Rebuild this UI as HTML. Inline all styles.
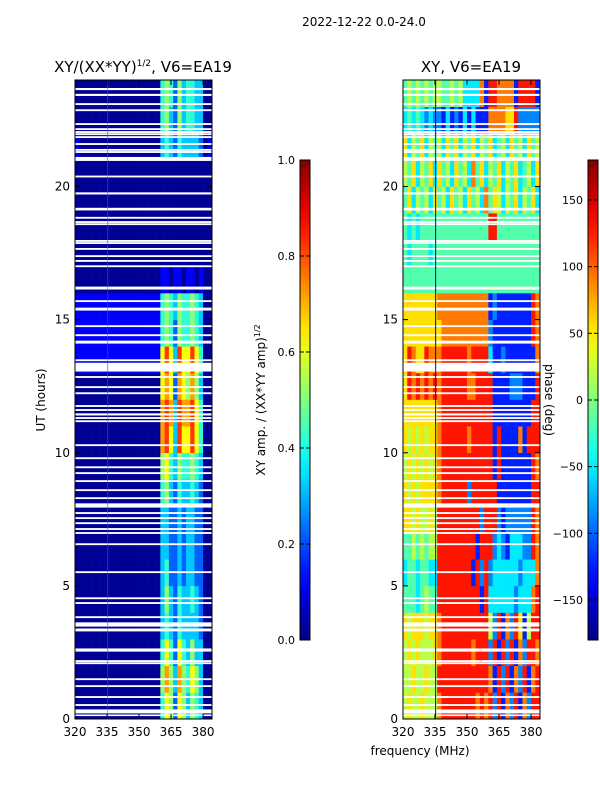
<!DOCTYPE html>
<html><head><meta charset="utf-8">
<style>
body{margin:0;background:#fff;}
svg{display:block;font-family:"DejaVu Sans","Liberation Sans",sans-serif;}
</style></head>
<body>
<svg id="fig" width="600" height="800" viewBox="0 0 600 800">
<rect width="600" height="800" fill="#fff"/>
<text x="364" y="26" font-size="12" text-anchor="middle">2022-12-22 0.0-24.0</text>
<text x="143" y="72" font-size="15" text-anchor="middle">XY/(XX*YY)<tspan font-size="9" dy="-6">1/2</tspan><tspan dy="6">, V6=EA19</tspan></text>
<text x="471" y="72" font-size="15" text-anchor="middle">XY, V6=EA19</text>
<g id="left"></g>
<g id="right"></g>
<g id="axes"></g>
<text transform="translate(45,400) rotate(-90)" font-size="12" text-anchor="middle">UT (hours)</text>
<text x="420" y="755" font-size="12" text-anchor="middle">frequency (MHz)</text>
<text transform="translate(265,400) rotate(-90)" font-size="12" text-anchor="middle">XY amp. / (XX*YY amp)<tspan font-size="8" dy="-5">1/2</tspan></text>
<text transform="translate(545,400) rotate(90)" font-size="12" text-anchor="middle">phase (deg)</text>
</svg>
<script>
const freqMin=320, freqMax=384.2, hMin=0, hMax=24;
const xTicks=[320,335,350,365,380];
const yTicks=[0,5,10,15,20];
const ampTicks=[0.0,0.2,0.4,0.6,0.8,1.0];
const phaseTicks=[150,100,50,0,-50,-100,-150];
// amplitude rows, hour 0..23, 32 bins of 2 MHz, digit d -> d/10 + 0.02
const ampRows=[
"00000000000000000000465265354300",
"00000000000000000000575375465300",
"00000000000000000000464264353300",
"00000000000000000000343243333200",
"00000000000000000000353243343200",
"00000000000000000000342232332200",
"00000000000000000000332232332200",
"00000000000000000000332232332200",
"00000000000000000000453243343200",
"00000000000000000000564354454300",
"00000000000000000000786386686400",
"00000000000000000000787387786400",
"00000000000000000000676276575300",
"11111111111111111111686386686400",
"11111111111111111111454254454300",
"11111111111111111111454354454300",
"00000000000000000000110110110100",
"00000000000000000000000000000000",
"00000000000000000000000000000000",
"00000000000000000000000000000000",
"00000000000000000000000000000000",
"10000000000000000000343243333201",
"00000000000000000000453253443300",
"00000000000000000000454253443300"];
// phase rows, digit d -> -160 + 36*d degrees
const phaseRows=[
"56556555788888888787828172817288",
"55655655888888888888718281728178",
"56565556788888887888281828172887",
"65666566788888888888528172861588",
"44434544888888888818333333233378",
"34434433888888881828233333323337",
"44545455888888888188823213332287",
"66565565888888888828882122222287",
"65656666788888828888881111111188",
"56565656788888888888818111111187",
"65656566788888878888818111171888",
"66666666788888888888811111111188",
"68787878788888877888811112221118",
"68766877788888878888311211111117",
"66666666677777777777211111111187",
"66666666777777777777121111111187",
"44444444444444444444444444444444",
"43444434444444444444444444444444",
"43434444444444444444884444444444",
"46354536453645364537465354635463",
"54635463645364537463546354634536",
"63546354536463546354634536453645",
"34343232213121313111777766822222",
"45454545544545333371887777188881"];
// flagged (blank) time intervals [start hour, end hour]
const flags=[[23.62,23.70],[23.40,23.48],[23.06,23.13],[22.83,22.90],[22.31,22.38],[22.12,22.19],[22.01,22.08],[21.93,22.00],[21.82,21.89],[21.56,21.63],[21.34,21.41],[21.26,21.33],[20.96,21.11],[20.34,20.41],[19.70,19.78],[19.10,19.20],[18.79,18.86],[18.63,18.70],[18.55,18.62],[17.92,17.99],[17.84,17.91],[17.62,17.69],[17.35,17.42],[17.17,17.24],[16.97,17.04],[16.13,16.24],[15.66,15.73],[15.34,15.45],[14.72,14.79],[14.38,14.45],[14.10,14.21],[13.44,13.51],[13.05,13.38],[12.81,12.88],[12.43,12.50],[12.20,12.27],[11.72,11.79],[11.57,11.64],[11.40,11.48],[11.27,11.34],[11.15,11.22],[10.25,10.32],[9.76,9.83],[9.42,9.49],[9.20,9.27],[8.90,8.97],[8.56,8.63],[8.26,8.33],[7.94,8.10],[7.70,7.77],[7.51,7.58],[7.32,7.39],[7.10,7.17],[6.95,7.02],[6.53,6.60],[5.48,5.55],[4.50,4.57],[4.32,4.39],[3.79,3.86],[3.47,3.63],[3.29,3.40],[2.53,2.65],[2.14,2.21],[2.06,2.13],[1.46,1.53],[1.20,1.27],[0.79,0.86],[0.49,0.56],[0.21,0.36],[0.11,0.17]];

const NS="http://www.w3.org/2000/svg";
function jet(v){v=Math.max(0,Math.min(1,v));const c=t=>Math.round(255*Math.max(0,Math.min(1,1.5-Math.abs(4*v-t))));return `rgb(${c(3)},${c(2)},${c(1)})`;}
function mk(tag,attrs,parent){const e=document.createElementNS(NS,tag);for(const k in attrs)e.setAttribute(k,attrs[k]);parent.appendChild(e);return e;}
const panels=[{x0:75,id:'left'},{x0:403,id:'right'}];
const y0=80,y1=719,pw=137;
function xs(p,f){return p.x0+(f-freqMin)/(freqMax-freqMin)*pw;}
function ys(h){return y1-(h-hMin)/(hMax-hMin)*(y1-y0);}
function drawGrid(p,rows,valFn){
  const g=document.getElementById(p.id);
  rows.forEach((row,hi)=>{
    for(let k=0;k<row.length;k++){
      const fa=320+2*k, fb=Math.min(fa+2,freqMax);
      const xa=xs(p,fa), xb=xs(p,fb), ya=ys(hi+1), yb=ys(hi);
      const r=mk('rect',{x:xa.toFixed(2),y:ya.toFixed(2),width:(xb-xa+0.3).toFixed(2),height:(yb-ya+0.3).toFixed(2),fill:jet(valFn(+row[k]))},g);
      
      
    }
  });
  flags.forEach(f=>{
    const r=mk('rect',{x:p.x0,y:ys(f[1]).toFixed(2),width:pw,height:Math.max(1.5,ys(f[0])-ys(f[1])).toFixed(2),fill:'#fff'},g);
    
    
  });
}
drawGrid(panels[0],ampRows,d=>d/10+0.02);
drawGrid(panels[1],phaseRows,d=>((-160+36*d)+180)/360);
const ax=document.getElementById('axes');
let l=mk('line',{x1:xs(panels[0],335.3),x2:xs(panels[0],335.3),y1:y0,y2:y1,stroke:'#2a55ff','stroke-width':1,opacity:0.6},ax);


l=mk('line',{x1:xs(panels[1],335.3),x2:xs(panels[1],335.3),y1:y0,y2:y1,stroke:'#0000c0','stroke-width':1},ax);


panels.forEach((p,pi)=>{
  const fr=mk('rect',{x:p.x0,y:y0,width:pw,height:y1-y0,fill:'none',stroke:'#000','stroke-width':1},ax);
  
  
  xTicks.forEach(t=>{
    const x=xs(p,t);
    mk('line',{x1:x,x2:x,y1:y1,y2:y1-5,stroke:'#000'},ax);
    mk('line',{x1:x,x2:x,y1:y0,y2:y0+5,stroke:'#000'},ax);
    const tx=mk('text',{x:x,y:736,'font-size':12,'text-anchor':'middle'},ax);
    tx.textContent=t;
    
    
  });
  yTicks.forEach(t=>{
    const y=ys(t);
    mk('line',{x1:p.x0,x2:p.x0+5,y1:y,y2:y,stroke:'#000'},ax);
    mk('line',{x1:p.x0+pw,x2:p.x0+pw-5,y1:y,y2:y,stroke:'#000'},ax);
    const tx=mk('text',{x:p.x0-5,y:y+4,'font-size':12,'text-anchor':'end'},ax);
    tx.textContent=t;
    
    
  });
});
const defs=mk('defs',{},ax);
const grad=mk('linearGradient',{id:'jetg',x1:0,y1:1,x2:0,y2:0},defs);
for(let i=0;i<=20;i++)mk('stop',{offset:i/20,'stop-color':jet(i/20)},grad);
const cb=[{x:300,ticks:ampTicks,pos:v=>640-v*480,fmt:v=>v.toFixed(1),name:'amp-colorbar'},
          {x:588,ticks:phaseTicks,pos:v=>400-v*240/180,fmt:v=>(v<0?'\u2212'+(-v):''+v),name:'phase-colorbar'}];
cb.forEach(c=>{
  const r=mk('rect',{x:c.x,y:160,width:10,height:480,fill:'url(#jetg)',stroke:'#000','stroke-width':1},ax);
  
  
  c.ticks.forEach(t=>{
    const y=c.pos(t);
    mk('line',{x1:c.x+10,x2:c.x+6,y1:y,y2:y,stroke:'#000'},ax);
    mk('line',{x1:c.x,x2:c.x+4,y1:y,y2:y,stroke:'#000'},ax);
    const tx=mk('text',{x:c.x-5,y:y+4,'font-size':11,'text-anchor':'end'},ax);
    tx.textContent=c.fmt(t);
    
    
  });
});
</script>
</body></html>
